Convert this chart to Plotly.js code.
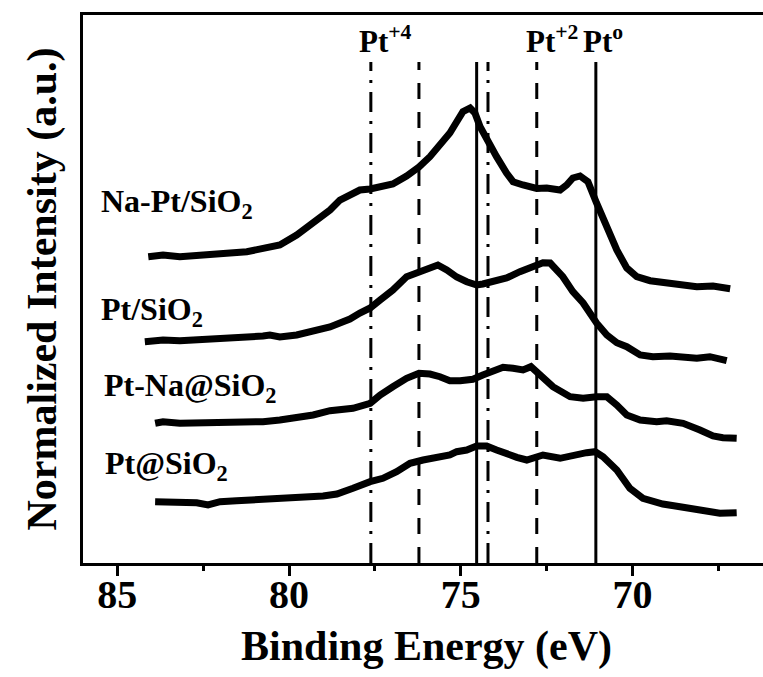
<!DOCTYPE html>
<html>
<head>
<meta charset="utf-8">
<script src="https://cdn.plot.ly/plotly-3.0.1.min.js"></script>
<style>
  html, body { margin: 0; padding: 0; background: #fff; overflow: hidden; }
  #chart { width: 770px; height: 677px; }
</style>
</head>
<body>
<div id="chart"></div>
<script>
// Binding energy (eV) and normalized intensity (a.u., stacked) for each sample
const naPtSiO2_x = [84.10, 83.67, 83.18, 82.69, 82.22, 81.72, 81.23, 80.76, 80.27, 79.78, 79.30, 78.81, 78.52, 78.23, 77.94, 77.64, 77.35, 76.98, 76.58, 76.22, 75.90, 75.61, 75.32, 75.12, 74.94, 74.73, 74.59, 74.44, 74.25, 73.96, 73.67, 73.48, 73.19, 72.79, 72.50, 72.11, 71.92, 71.74, 71.53, 71.30, 71.05, 70.75, 70.46, 70.17, 69.88, 69.49, 69.12, 68.62, 68.13, 67.66, 67.16];
const naPtSiO2_y = [3.063, 3.08, 3.063, 3.07, 3.08, 3.10, 3.113, 3.14, 3.18, 3.28, 3.40, 3.53, 3.63, 3.68, 3.73, 3.74, 3.763, 3.79, 3.87, 3.96, 4.063, 4.18, 4.30, 4.413, 4.513, 4.55, 4.50, 4.363, 4.23, 4.063, 3.90, 3.813, 3.78, 3.745, 3.75, 3.73, 3.78, 3.85, 3.87, 3.813, 3.60, 3.363, 3.13, 2.95, 2.863, 2.823, 2.803, 2.78, 2.763, 2.77, 2.743];

const ptSiO2_x = [84.20, 83.67, 83.18, 82.69, 82.22, 81.72, 81.23, 80.76, 80.56, 80.27, 79.78, 79.30, 78.81, 78.43, 78.23, 77.94, 77.64, 77.35, 76.98, 76.58, 76.22, 75.90, 75.67, 75.41, 75.12, 74.83, 74.54, 74.36, 74.06, 73.67, 73.28, 72.99, 72.61, 72.40, 72.03, 71.74, 71.44, 71.05, 70.75, 70.46, 70.17, 69.78, 69.41, 68.91, 68.42, 68.13, 67.75, 67.46, 67.26];
const ptSiO2_y = [2.213, 2.23, 2.223, 2.23, 2.24, 2.25, 2.263, 2.27, 2.28, 2.26, 2.28, 2.313, 2.36, 2.413, 2.44, 2.50, 2.55, 2.63, 2.73, 2.863, 2.913, 2.94, 2.98, 2.93, 2.86, 2.813, 2.78, 2.79, 2.813, 2.85, 2.913, 2.95, 3.003, 3.00, 2.863, 2.713, 2.60, 2.40, 2.28, 2.203, 2.163, 2.08, 2.063, 2.07, 2.063, 2.047, 2.063, 2.047, 2.023];

const ptNaAtSiO2_x = [83.90, 83.67, 83.18, 82.69, 82.22, 81.72, 81.23, 80.76, 80.27, 79.78, 79.30, 78.81, 78.43, 78.14, 77.64, 77.35, 76.98, 76.58, 76.22, 75.90, 75.61, 75.32, 75.02, 74.65, 74.36, 74.06, 73.77, 73.48, 73.19, 72.96, 72.70, 72.32, 71.82, 71.44, 71.05, 70.75, 70.46, 70.17, 69.78, 69.30, 69.01, 68.53, 68.04, 67.66, 67.37, 66.97];
const ptNaAtSiO2_y = [1.397, 1.413, 1.397, 1.397, 1.397, 1.397, 1.403, 1.413, 1.43, 1.447, 1.48, 1.523, 1.53, 1.547, 1.597, 1.68, 1.763, 1.847, 1.897, 1.89, 1.863, 1.823, 1.823, 1.837, 1.88, 1.92, 1.957, 1.947, 1.93, 1.963, 1.88, 1.763, 1.663, 1.647, 1.663, 1.663, 1.58, 1.48, 1.43, 1.413, 1.423, 1.397, 1.33, 1.27, 1.253, 1.247];

const ptAtSiO2_x = [83.90, 83.38, 82.69, 82.36, 82.01, 81.53, 80.94, 80.47, 79.97, 79.49, 79.01, 78.61, 78.23, 78.14, 77.64, 77.27, 76.87, 76.48, 76.10, 75.70, 75.32, 75.12, 74.83, 74.54, 74.25, 73.96, 73.67, 73.37, 73.08, 72.70, 72.61, 72.11, 71.74, 71.34, 71.09, 70.86, 70.46, 70.08, 69.70, 69.12, 68.53, 67.95, 67.46, 66.97];
const ptAtSiO2_y = [0.613, 0.613, 0.603, 0.58, 0.613, 0.623, 0.63, 0.637, 0.647, 0.657, 0.67, 0.69, 0.73, 0.747, 0.813, 0.847, 0.913, 0.997, 1.03, 1.047, 1.08, 1.113, 1.13, 1.17, 1.17, 1.13, 1.09, 1.057, 1.03, 1.063, 1.08, 1.047, 1.08, 1.103, 1.113, 1.063, 0.93, 0.747, 0.647, 0.59, 0.557, 0.523, 0.497, 0.503];

// Sample labels
const sampleLabels = ['Na-Pt/SiO<sub>2</sub>', 'Pt/SiO<sub>2</sub>', 'Pt-Na@SiO<sub>2</sub>', 'Pt@SiO<sub>2</sub>'];
const sampleLabelX = [85.54, 85.54, 85.45, 85.42];
const sampleLabelY = [3.60, 2.52, 1.76, 0.98];

// Reference binding energies (eV) of Pt 4f components
const refLineE = [77.62, 76.22, 74.54, 74.21, 72.79, 71.07];
const refLineStyle = ['dashdot', 'dash', 'solid', 'dashdot', 'dash', 'solid'];
const refLineTop = 5.01;

// Oxidation-state labels
const stateLabels = ['Pt<sup>+4</sup>', 'Pt<sup>+2</sup>', 'Pt<sup>o</sup>'];
const stateLabelX = [78.01, 73.16, 71.50];
const stateLabelY = 5.233;

// X axis ticks
const xTickVals = [85, 80, 75, 70];
const xTickText = ['85', '80', '75', '70'];

const FONT = 'Liberation Serif, Times New Roman, serif';
const dashMap = { dashdot: '20px,9px,3px,9px', dash: '16px,13px', solid: 'solid' };

const series = [
  [naPtSiO2_x, naPtSiO2_y],
  [ptSiO2_x, ptSiO2_y],
  [ptNaAtSiO2_x, ptNaAtSiO2_y],
  [ptAtSiO2_x, ptAtSiO2_y]
];

const traces = series.map((s, i) => ({
  x: s[0], y: s[1], type: 'scatter', mode: 'lines',
  name: sampleLabels[i].replace(/<[^>]+>/g, ''),
  line: { color: '#000', width: 7 },
  showlegend: false, hoverinfo: 'skip'
}));

const shapes = refLineE.map((e, i) => ({
  type: 'line', xref: 'x', yref: 'y',
  x0: e, x1: e, y0: 0, y1: refLineTop,
  line: { color: '#000', width: 3, dash: dashMap[refLineStyle[i]] }
}));

const annotations = [];
sampleLabels.forEach((t, i) => annotations.push({
  text: t, xref: 'x', yref: 'y', x: sampleLabelX[i], y: sampleLabelY[i],
  xanchor: 'left', yanchor: 'middle', showarrow: false,
  font: { family: FONT, size: 32, color: '#000', weight: 'bold' }
}));
stateLabels.forEach((t, i) => annotations.push({
  text: t, xref: 'x', yref: 'y', x: stateLabelX[i], y: stateLabelY,
  xanchor: 'left', yanchor: 'middle', showarrow: false,
  font: { family: FONT, size: 31, color: '#000', weight: 'bold' }
}));

const layout = {
  width: 770, height: 677,
  margin: { l: 83, r: 0, t: 15, b: 114 },
  paper_bgcolor: '#fff', plot_bgcolor: '#fff',
  showlegend: false,
  xaxis: {
    range: [86, 66], autorange: false,
    showline: true, linewidth: 3, linecolor: '#000', mirror: true,
    showgrid: false, zeroline: false,
    ticks: 'outside', ticklen: 10, tickwidth: 3, tickcolor: '#000',
    tickvals: xTickVals, ticktext: xTickText,
    ticklabelstandoff: -16,
    minor: { dtick: 2.5, tick0: 0, ticks: 'outside', ticklen: 5, tickwidth: 3, tickcolor: '#000', showgrid: false },
    tickfont: { family: FONT, size: 40, color: '#000', weight: 'bold' },
    title: { text: 'Binding Energy (eV)', standoff: 15, font: { family: FONT, size: 42, color: '#000', weight: 'bold' } }
  },
  yaxis: {
    range: [0, 5.48], autorange: false,
    showline: true, linewidth: 3, linecolor: '#000', mirror: true,
    showgrid: false, zeroline: false,
    ticks: '', showticklabels: false,
    title: { text: 'Normalized Intensity (a.u.)', standoff: 11, font: { family: FONT, size: 42, color: '#000', weight: 'bold' } }
  },
  shapes: shapes,
  annotations: annotations
};

Plotly.newPlot('chart', traces, layout, { staticPlot: true, displayModeBar: false });
</script>
</body>
</html>
